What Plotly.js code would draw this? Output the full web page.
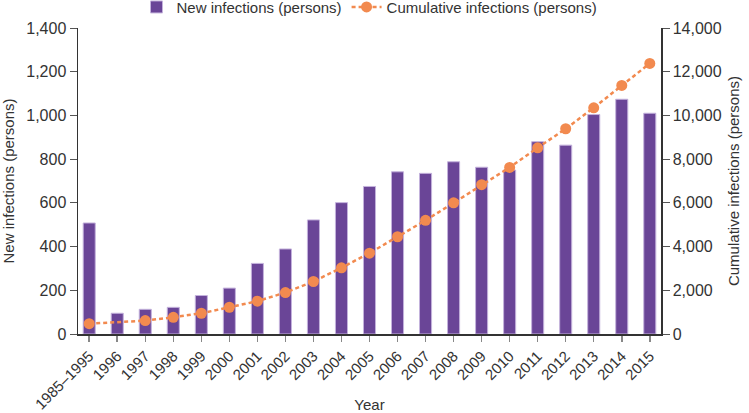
<!DOCTYPE html>
<html>
<head>
<meta charset="utf-8">
<script src="https://cdn.plot.ly/plotly-3.0.1.min.js"></script>
<style>html,body{margin:0;padding:0;background:#fff;}#chart{width:749px;height:413px;}</style>
</head>
<body>
<div id="chart"></div>
<script>
const years = ['1985–1995','1996','1997','1998','1999','2000','2001','2002','2003','2004','2005','2006','2007','2008','2009','2010','2011','2012','2013','2014','2015'];
const newInfections = [508, 95, 113, 122, 176, 210, 323, 389, 522, 601, 675, 742, 735, 788, 763, 750, 880, 864, 1004, 1074, 1010];
const cumulativeInfections = [470, null, 612, 765, 949, 1224, 1500, 1898, 2402, 3030, 3700, 4450, 5200, 6000, 6830, 7620, 8520, 9390, 10350, 11370, 12380];
const leftTicks = [0, 200, 400, 600, 800, 1000, 1200, 1400];
const rightTicks = [0, 2000, 4000, 6000, 8000, 10000, 12000, 14000];

const FONT = '"Liberation Sans", Arial, sans-serif';
const traces = [
  {
    type: 'bar', name: 'New infections (persons)', x: years, y: newInfections,
    marker: {color: '#6a4597', line: {color: '#c4b2dc', width: 1}},
    width: 0.43
  },
  {
    type: 'scatter', mode: 'lines+markers', name: 'Cumulative infections (persons)',
    x: years, y: cumulativeInfections, yaxis: 'y2', connectgaps: true,
    line: {color: '#f28a4f', width: 2.5, dash: '4px,3px'},
    marker: {color: '#f28a4f', size: 11}
  }
];
const layout = {
  width: 749, height: 413,
  margin: {l: 78, r: 88, t: 28, b: 79, autoexpand: false},
  paper_bgcolor: '#fff', plot_bgcolor: '#fff',
  font: {family: FONT, size: 15, color: '#333'},
  showlegend: true,
  legend: {orientation: 'h', x: 0.5, xanchor: 'center', y: 1.068, yanchor: 'middle',
    font: {size: 15, color: '#333'}, traceorder: 'normal', itemwidth: 30},
  xaxis: {
    type: 'category', range: [-0.4, 20.4], tickangle: -45, automargin: false,
    showline: true, linecolor: '#333', linewidth: 1.5,
    ticks: 'outside', ticklen: 6, tickcolor: '#888', tickwidth: 1.5,
    showgrid: false, zeroline: false,
    tickfont: {size: 15, color: '#333'},
    title: {text: 'Year', font: {size: 15, color: '#333'}, standoff: 6}
  },
  yaxis: {
    range: [0, 1400], tickvals: leftTicks, tickformat: ',d', automargin: false,
    showline: true, linecolor: '#333', linewidth: 1.5,
    ticks: 'outside', ticklen: 7, tickcolor: '#555',
    showgrid: false, zeroline: false,
    tickfont: {size: 16, color: '#333'},
    title: {text: 'New infections (persons)', font: {size: 15, color: '#333'}, standoff: 8}
  },
  yaxis2: {
    overlaying: 'y', side: 'right', range: [0, 14000], tickvals: rightTicks, tickformat: ',d', automargin: false,
    showline: true, linecolor: '#333', linewidth: 1.5,
    ticks: 'outside', ticklen: 7, tickcolor: '#555',
    showgrid: false, zeroline: false,
    tickfont: {size: 16, color: '#333'},
    title: {text: 'Cumulative infections (persons)', font: {size: 15, color: '#333'}, standoff: 8}
  }
};
Plotly.newPlot('chart', traces, layout, {displayModeBar: false, staticPlot: true});
</script>
</body>
</html>
